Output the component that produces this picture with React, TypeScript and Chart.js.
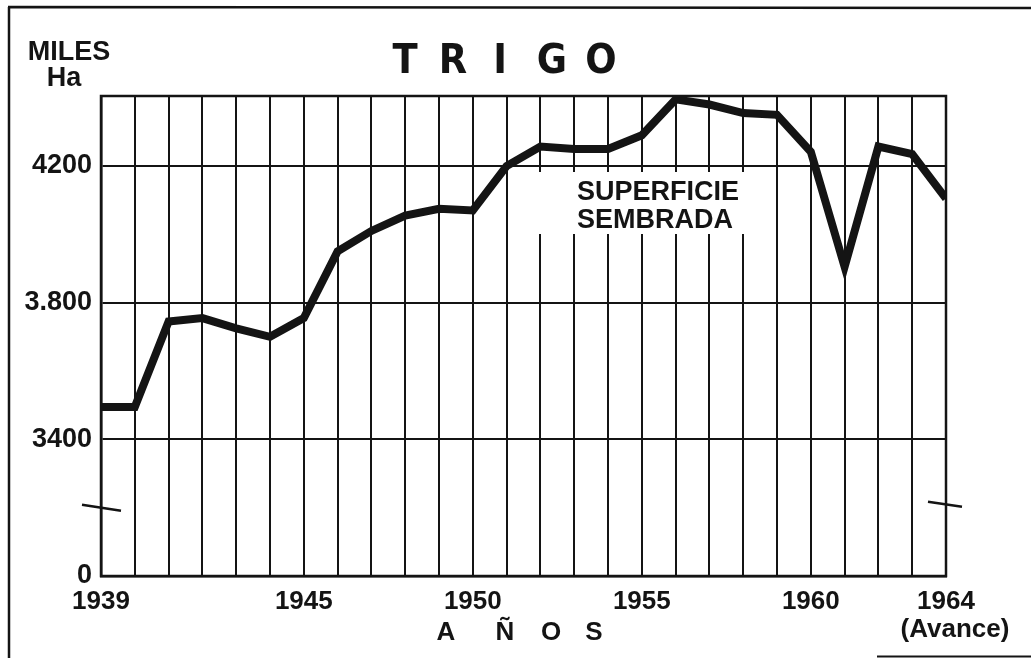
import React, { useEffect, useRef } from 'react';
import { Chart, registerables } from 'chart.js';

Chart.register(...registerables);

// ---- data ----
const years = [1939, 1940, 1941, 1942, 1943, 1944, 1945, 1946, 1947, 1948, 1949, 1950, 1951, 1952, 1953, 1954, 1955, 1956, 1957, 1958, 1959, 1960, 1961, 1962, 1963, 1964];
const superficieSembrada = [3495, 3495, 3745, 3755, 3725, 3700, 3755, 3950, 4010, 4055, 4075, 4070, 4200, 4257, 4250, 4250, 4290, 4395, 4380, 4355, 4350, 4242, 3905, 4257, 4235, 4105];
const yTickValues = [3000, 3400, 3800, 4200];
const yTickLabels = ['0', '3400', '3.800', '4200'];
const xLabelYears = [1939, 1945, 1950, 1955, 1960, 1964];
const titleText = 'TRIGO';
const unitLines = ['MILES', 'Ha'];
const seriesLabelLines = ['SUPERFICIE', 'SEMBRADA'];
const xTitleText = 'AÑOS';
const xNoteText = '(Avance)';
const axisBreakValue = 3200;

const INK = '#141414';
const FONT = '"Liberation Sans", Arial, sans-serif';
const NARROW = '"Liberation Sans Narrow", "DejaVu Sans Condensed", "Liberation Sans", sans-serif';

function drawLetters(ctx: CanvasRenderingContext2D, text: string, centers: number[], y: number) {
  const chars = Array.from(text);
  ctx.textAlign = 'center';
  chars.forEach((c, i) => ctx.fillText(c, centers[i], y));
}

const decorPlugin = {
  id: 'decor',
  beforeDatasetsDraw(chart: any) {
    const { ctx, chartArea: a } = chart;
    ctx.save();
    // label background (grid interrupted behind the text)
    ctx.fillStyle = '#ffffff';
    ctx.fillRect(538, 172, 212, 62);
    // plot frame
    ctx.strokeStyle = INK;
    ctx.lineWidth = 2.5;
    ctx.strokeRect(a.left, a.top, a.right - a.left, a.bottom - a.top);
    // series label
    ctx.fillStyle = INK;
    ctx.font = `bold 27px ${FONT}`;
    ctx.textAlign = 'left';
    ctx.textBaseline = 'alphabetic';
    ctx.fillText(seriesLabelLines[0], 577, 200);
    ctx.fillText(seriesLabelLines[1], 577, 228);
    ctx.restore();
  },
  afterDraw(chart: any) {
    const { ctx, chartArea: a, scales } = chart;
    const W = chart.width;
    const H = chart.height;
    ctx.save();
    ctx.strokeStyle = INK;
    ctx.fillStyle = INK;
    // outer frame fragments
    ctx.lineWidth = 2.5;
    ctx.beginPath();
    ctx.moveTo(9, 7);
    ctx.lineTo(9, H);
    ctx.moveTo(8, 7);
    ctx.lineTo(W, 8);
    ctx.stroke();
    ctx.lineWidth = 2;
    ctx.beginPath();
    ctx.moveTo(877, H - 1.5);
    ctx.lineTo(W, H - 1.5);
    ctx.stroke();

    // axis break marks
    const yb = scales.y.getPixelForValue(axisBreakValue);
    ctx.lineWidth = 2.5;
    ctx.beginPath();
    ctx.moveTo(a.left - 19, yb - 3);
    ctx.lineTo(a.left + 20, yb + 3);
    ctx.moveTo(a.right - 18, yb - 6);
    ctx.lineTo(a.right + 16, yb - 1);
    ctx.stroke();

    ctx.textBaseline = 'alphabetic';
    // title
    ctx.font = `bold 41px ${NARROW}`;
    drawLetters(ctx, titleText, [405, 453, 500, 552, 601], 73);
    // units
    ctx.font = `bold 27px ${FONT}`;
    ctx.textAlign = 'center';
    ctx.fillText(unitLines[0], 69, 60);
    ctx.fillText(unitLines[1], 64, 86);
    // x title
    ctx.font = `bold 26px ${FONT}`;
    drawLetters(ctx, xTitleText, [446, 505, 551, 594], 640);
    ctx.textAlign = 'center';
    ctx.fillText(xNoteText, 955, 637);
    ctx.restore();
  },
};

export default function App() {
  const canvasRef = useRef<HTMLCanvasElement | null>(null);

  useEffect(() => {
    const canvas = canvasRef.current;
    if (!canvas) return;
    const chart = new Chart(canvas, {
      type: 'line',
      data: {
        datasets: [
          {
            label: 'Superficie sembrada',
            data: years.map((yr, i) => ({ x: yr, y: superficieSembrada[i] })),
            borderColor: INK,
            borderWidth: 8,
            pointRadius: 0,
            tension: 0,
            borderJoinStyle: 'miter',
            borderCapStyle: 'butt',
            fill: false,
          },
        ],
      },
      options: {
        responsive: false,
        animation: false,
        layout: { padding: { top: 96, right: 85, left: 0, bottom: 0 } },
        plugins: {
          legend: { display: false },
          title: { display: false },
          tooltip: { enabled: false },
        },
        scales: {
          x: {
            type: 'linear',
            min: 1939,
            max: 1964,
            afterFit: (s: any) => { s.height = 82; },
            afterBuildTicks: (s: any) => { s.ticks = years.map((v) => ({ value: v })); },
            ticks: {
              autoSkip: false,
              maxRotation: 0,
              padding: 10,
              color: INK,
              font: { family: FONT, size: 26, weight: 'bold' },
              callback: (v: any) => (xLabelYears.includes(Number(v)) ? String(v) : ''),
            },
            grid: { color: INK, lineWidth: 2, drawTicks: false, tickLength: 0 },
            border: { display: true, color: INK, width: 2.5 },
          },
          y: {
            type: 'linear',
            min: 3000,
            max: 4405,
            afterFit: (s: any) => { s.width = 101; },
            afterBuildTicks: (s: any) => { s.ticks = yTickValues.map((v) => ({ value: v })); },
            ticks: {
              padding: 9,
              color: INK,
              font: { family: FONT, size: 27, weight: 'bold' },
              callback: (v: any) => {
                const i = yTickValues.indexOf(Number(v));
                return i >= 0 ? yTickLabels[i] : '';
              },
            },
            grid: { color: INK, lineWidth: 2, drawTicks: false, tickLength: 0 },
            border: { display: true, color: INK, width: 2.5 },
          },
        },
      },
      plugins: [decorPlugin],
    } as any);
    return () => chart.destroy();
  }, []);

  return (
    <div style={{ position: 'fixed', left: 0, top: 0, width: 1031, height: 658, background: '#fff' }}>
      <canvas ref={canvasRef} width={1031} height={658} style={{ display: 'block', width: 1031, height: 658 }} />
    </div>
  );
}
